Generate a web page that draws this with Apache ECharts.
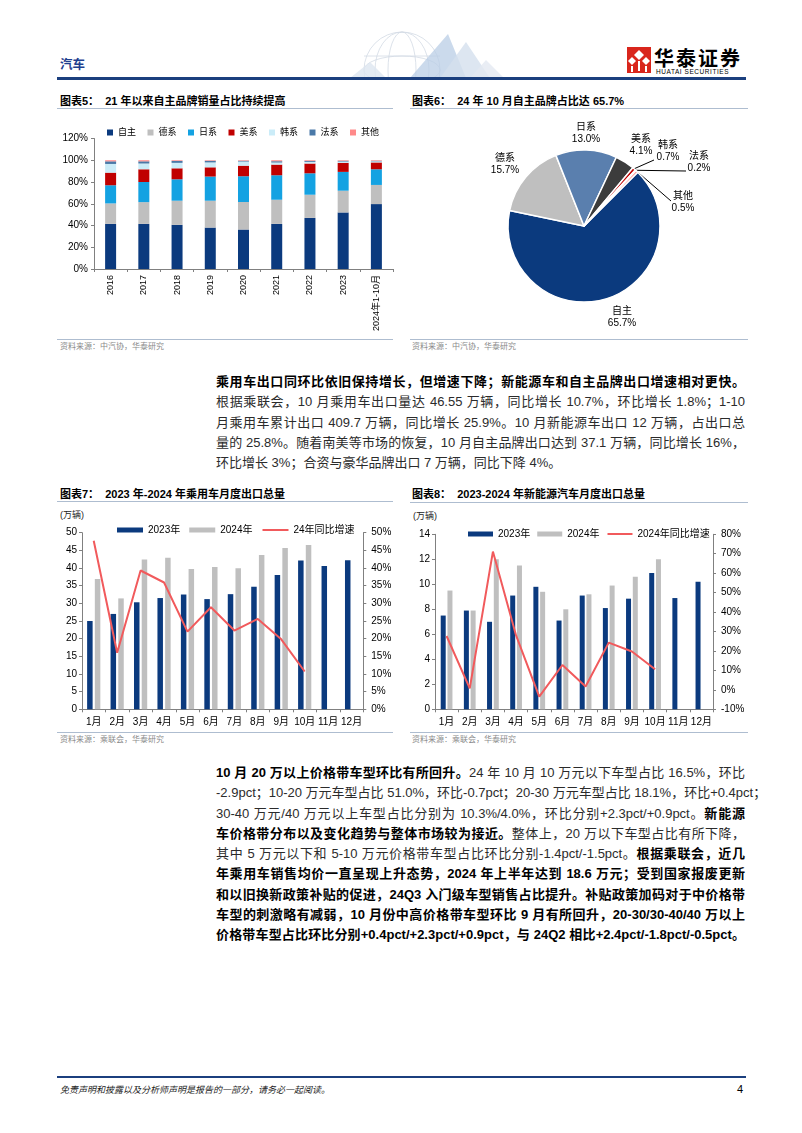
<!DOCTYPE html>
<html>
<head>
<meta charset="utf-8">
<script src="https://cdn.jsdelivr.net/npm/echarts@6/dist/echarts.min.js"></script>
<style>
  html, body { margin:0; padding:0; background:#fff; }
  body { width:802px; height:1133px; position:relative; overflow:hidden;
         font-family:"Liberation Sans", Arial, "Noto Sans CJK SC", sans-serif; color:#000; }
  .abs { position:absolute; }
  .ttl { position:absolute; font-size:11px; font-weight:bold; line-height:14px; white-space:nowrap; }
  .src { position:absolute; font-size:8px; color:#8a8a8a; line-height:10px; white-space:nowrap; }
  .rule { position:absolute; height:1px; background:#aebdd0; }
  .unit { position:absolute; font-size:9px; color:#222; line-height:12px; }
  .para { position:absolute; left:216px; width:529px; font-size:13px; line-height:20.3px; color:#2b2b2b; }
  .para div { white-space:nowrap; text-align:justify; text-align-last:justify; height:20.3px; }
  .para div.last { text-align-last:left; }
  .para b { color:#000; font-weight:bold; }
</style>
</head>
<body>
<!-- header -->
<svg class="abs" style="left:290px;top:26px" width="230" height="52">
  <g fill="none" stroke="#d3dae4" stroke-width="0.8">
    <circle cx="112" cy="44" r="38"/>
    <ellipse cx="112" cy="44" rx="38" ry="14"/>
    <ellipse cx="112" cy="44" rx="14" ry="38"/>
    <ellipse cx="112" cy="44" rx="27" ry="38"/>
    <line x1="74" y1="30" x2="150" y2="30"/>
  </g>
  <polygon points="120,52 158,8 176,52" fill="#b9cde6" opacity="0.75"/>
  <polygon points="150,52 176,16 200,52" fill="#d4e0ee" opacity="0.8"/>
  <polygon points="60,52 80,36 96,52" fill="#dde6f0" opacity="0.8"/>
  <polygon points="180,52 196,34 214,52" fill="#e3e9f1" opacity="0.8"/>
</svg>
<div class="abs" style="left:60px;top:54px;font-size:12.5px;font-weight:bold;color:#1f3f8f;font-family:'Noto Sans CJK SC'">汽车</div>
<svg class="abs" style="left:627px;top:47px" width="24" height="26">
  <rect width="24" height="26" fill="#d9261c"/>
  <g fill="#fff">
    <polygon points="12,3 17,8 12,13 7,8"/>
    <polygon points="5,10 9,14 5,18 1,14"/>
    <polygon points="19,10 23,14 19,18 15,14"/>
    <rect x="11" y="14" width="2" height="10"/>
    <rect x="4" y="19" width="2" height="6"/>
    <rect x="18" y="19" width="2" height="6"/>
  </g>
</svg>
<div class="abs" style="left:654px;top:45px;font-size:20px;font-weight:bold;letter-spacing:2px;font-family:'Noto Sans CJK SC';line-height:26px">华泰证券</div>
<div class="abs" style="left:656px;top:68px;font-size:6.5px;letter-spacing:0.55px;line-height:8px">HUATAI SECURITIES</div>
<div class="abs" style="left:57px;top:77px;width:689px;height:3px;background:#1b3f7e"></div>

<!-- chart titles -->
<div class="ttl" style="left:60px;top:94px">图表5：&nbsp;&nbsp;21 年以来自主品牌销量占比持续提高</div>
<div class="rule" style="left:57px;top:108px;width:336px"></div>
<div class="ttl" style="left:412px;top:94px">图表6：&nbsp;&nbsp;24 年 10 月自主品牌占比达 65.7%</div>
<div class="rule" style="left:410px;top:108px;width:338px"></div>
<div class="rule" style="left:57px;top:339px;width:336px"></div>
<div class="src" style="left:60px;top:342px">资料来源：中汽协，华泰研究</div>
<div class="rule" style="left:410px;top:339px;width:338px"></div>
<div class="src" style="left:412px;top:342px">资料来源：中汽协，华泰研究</div>

<div class="ttl" style="left:60px;top:487px">图表7：&nbsp;&nbsp;2023 年-2024 年乘用车月度出口总量</div>
<div class="rule" style="left:57px;top:501px;width:336px"></div>
<div class="ttl" style="left:412px;top:487px">图表8：&nbsp;&nbsp;2023-2024 年新能源汽车月度出口总量</div>
<div class="rule" style="left:410px;top:502px;width:338px"></div>
<div class="unit" style="left:60px;top:509px">(万辆)</div>
<div class="unit" style="left:413px;top:510px">(万辆)</div>
<div class="rule" style="left:57px;top:732px;width:336px"></div>
<div class="src" style="left:60px;top:735px">资料来源：乘联会，华泰研究</div>
<div class="rule" style="left:410px;top:732px;width:338px"></div>
<div class="src" style="left:412px;top:735px">资料来源：乘联会，华泰研究</div>

<!-- paragraphs -->
<div class="para" style="top:372px">
  <div><b>乘用车出口同环比依旧保持增长，但增速下降；新能源车和自主品牌出口增速相对更快。</b></div>
  <div>根据乘联会，10 月乘用车出口量达 46.55 万辆，同比增长 10.7%，环比增长 1.8%；1-10</div>
  <div>月乘用车累计出口 409.7 万辆，同比增长 25.9%。10 月新能源车出口 12 万辆，占出口总</div>
  <div>量的 25.8%。随着南美等市场的恢复，10 月自主品牌出口达到 37.1 万辆，同比增长 16%，</div>
  <div class="last">环比增长 3%；合资与豪华品牌出口 7 万辆，同比下降 4%。</div>
</div>
<div class="para" style="top:763px">
  <div><b>10 月 20 万以上价格带车型环比有所回升。</b>24 年 10 月 10 万元以下车型占比 16.5%，环比</div>
  <div>-2.9pct；10-20 万元车型占比 51.0%，环比-0.7pct；20-30 万元车型占比 18.1%，环比+0.4pct；</div>
  <div>30-40 万元/40 万元以上车型占比分别为 10.3%/4.0%，环比分别+2.3pct/+0.9pct。<b>新能源</b></div>
  <div><b>车价格带分布以及变化趋势与整体市场较为接近。</b>整体上，20 万以下车型占比有所下降，</div>
  <div>其中 5 万元以下和 5-10 万元价格带车型占比环比分别-1.4pct/-1.5pct。<b>根据乘联会，近几</b></div>
  <div><b>年乘用车销售均价一直呈现上升态势，2024 年上半年达到 18.6 万元；受到国家报废更新</b></div>
  <div><b>和以旧换新政策补贴的促进，24Q3 入门级车型销售占比提升。补贴政策加码对于中价格带</b></div>
  <div><b>车型的刺激略有减弱，10 月份中高价格带车型环比 9 月有所回升，20-30/30-40/40 万以上</b></div>
  <div><b>价格带车型占比环比分别+0.4pct/+2.3pct/+0.9pct，与 24Q2 相比+2.4pct/-1.8pct/-0.5pct。</b></div>
</div>

<!-- footer -->
<div class="abs" style="left:57px;top:1076px;width:689px;height:2px;background:#1b3f7e"></div>
<div class="abs" style="left:60px;top:1084px;font-size:9px;font-style:italic;color:#222;line-height:12px">免责声明和披露以及分析师声明是报告的一部分，请务必一起阅读。</div>
<div class="abs" style="left:737px;top:1083px;font-size:11px;line-height:13px">4</div>

<div id="chart" class="abs" style="left:0;top:0;width:802px;height:1133px"></div>

<script>
// ---- Data ----
const brandYears = ['2016', '2017', '2018', '2019', '2020', '2021', '2022', '2023', '2024年1-10月'];
const brandNames = ['自主', '德系', '日系', '美系', '韩系', '法系', '其他'];
const shareDomestic = [41.5, 41.5, 40.6, 38.1, 36.3, 41.5, 47.0, 52.0, 59.7];
const shareGerman   = [18.8, 20.0, 22.2, 24.7, 25.3, 22.2, 21.3, 20.0, 17.6];
const shareJapanese = [16.7, 18.5, 19.7, 22.2, 23.7, 22.5, 19.7, 17.3, 14.4];
const shareAmerican = [11.6, 11.7, 10.1, 8.5, 9.7, 9.8, 9.0, 8.3, 6.3];
const shareKorean   = [8.0, 5.3, 5.0, 4.5, 3.8, 1.9, 1.5, 1.2, 1.0];
const shareFrench   = [2.4, 2.0, 1.8, 1.5, 0.7, 1.2, 0.9, 0.7, 0.5];
const shareOther    = [1.0, 1.0, 0.6, 0.5, 0.5, 0.9, 0.6, 0.5, 0.5];

const octBrands = ['自主', '德系', '日系', '美系', '韩系', '法系', '其他'];
const octShare  = [65.7, 15.7, 13.0, 4.1, 0.7, 0.2, 0.5];

const months = ['1月', '2月', '3月', '4月', '5月', '6月', '7月', '8月', '9月', '10月', '11月', '12月'];
const pvExport2023 = [25.0, 27.0, 30.3, 31.5, 32.5, 31.2, 32.6, 34.7, 38.0, 42.1, 40.6, 42.2];
const pvExport2024 = [36.9, 31.4, 42.4, 42.9, 39.7, 40.3, 39.9, 43.7, 45.7, 46.55];
const pvExportYoY  = [47.7, 16.0, 39.3, 35.9, 22.0, 28.9, 22.3, 25.6, 19.8, 10.7];

const nevExport2023 = [7.5, 7.9, 7.0, 9.1, 9.8, 7.1, 9.1, 8.1, 8.85, 10.9, 8.9, 10.2];
const nevExport2024 = [9.5, 7.9, 12.0, 11.5, 9.4, 8.0, 9.2, 9.9, 10.6, 12.0];
const nevExportYoY  = [27.7, 0.8, 71.1, 28.0, -3.5, 12.8, 1.7, 24.3, 19.7, 10.6];

// ---- Styles ----
const NAVY = '#0b3a7e', GRAY = '#bfbfbf', RED_LINE = '#f15a5c';
const barColors = ['#0b3a7e', '#bfbfbf', '#14a2e2', '#c00000', '#cbecf8', '#4a79a8', '#ff8a8a'];
const pieColors = ['#0b3a7e', '#bfbfbf', '#5a7fae', '#3c3c3c', '#c00000', '#f2c4c4', '#ff8a8a'];
const brandSeriesData = [shareDomestic, shareGerman, shareJapanese, shareAmerican, shareKorean, shareFrench, shareOther];

const pieLabelSpots = {
  '自主': { x: 622, y: 317 },
  '德系': { x: 505, y: 164 },
  '日系': { x: 586, y: 133 },
  '美系': { x: 641, y: 145 },
  '韩系': { x: 668, y: 151, end: [654, 160] },
  '法系': { x: 699, y: 162, end: [686, 171] },
  '其他': { x: 683, y: 202, end: [671, 201] }
};

const axisColor = '#808080';
function catAxis(gridIndex, data, extra) {
  return Object.assign({
    type: 'category', gridIndex: gridIndex, data: data,
    axisLine: { onZero: false, lineStyle: { color: axisColor, width: 1 } },
    axisTick: { show: true, length: 3, lineStyle: { color: axisColor } },
    axisLabel: { color: '#000', fontSize: 10, margin: 8, interval: 0 },
    splitLine: { show: false }
  }, extra || {});
}
function valAxis(gridIndex, min, max, interval, pos, fmt, margin) {
  return {
    type: 'value', gridIndex: gridIndex, min: min, max: max, interval: interval, position: pos,
    axisLine: { show: true, lineStyle: { color: axisColor, width: 1 } },
    axisTick: { show: true, length: 3, lineStyle: { color: axisColor } },
    axisLabel: { color: '#000', fontSize: 10, margin: margin, formatter: fmt },
    splitLine: { show: false }
  };
}

const chart = echarts.init(document.getElementById('chart'), null, { renderer: 'canvas' });

const series = [];
brandNames.forEach(function (n, i) {
  series.push({
    name: n, type: 'bar', stack: 'brand', xAxisIndex: 0, yAxisIndex: 0,
    barWidth: 11, data: brandSeriesData[i], itemStyle: { color: barColors[i] },
    emphasis: { disabled: true }
  });
});
series.push({
  name: '10月份额', type: 'pie', center: [584, 226], radius: 76, startAngle: 45, clockwise: true,
  avoidLabelOverlap: false, emphasis: { disabled: true },
  itemStyle: { borderColor: '#fff', borderWidth: 1.5 },
  label: {
    show: true, position: 'outside', color: '#000', fontSize: 10, lineHeight: 12,
    formatter: function (p) { return p.name + '\n' + p.value.toFixed(1) + '%'; }
  },
  labelLine: { show: true, length: 8, length2: 8, lineStyle: { color: '#000', width: 1 } },
  labelLayout: function (p) {
    const s = pieLabelSpots[octBrands[p.dataIndex]];
    const r = { x: s.x, y: s.y, align: 'center', verticalAlign: 'middle' };
    if (s.end && p.labelLinePoints) r.labelLinePoints = [p.labelLinePoints[0], s.end, s.end];
    return r;
  },
  data: octBrands.map(function (n, i) {
    return { name: n, value: octShare[i], itemStyle: { color: pieColors[i] }, labelLine: { show: i >= 4 } };
  })
});
// chart 7
series.push({ name: '2023年', type: 'bar', xAxisIndex: 1, yAxisIndex: 1, barWidth: 5.5, barGap: '40%',
  data: pvExport2023, itemStyle: { color: NAVY }, emphasis: { disabled: true } });
series.push({ name: '2024年', type: 'bar', xAxisIndex: 1, yAxisIndex: 1, barWidth: 5.5, barGap: '40%',
  data: pvExport2024, itemStyle: { color: GRAY }, emphasis: { disabled: true } });
series.push({ name: '24年同比增速', type: 'line', xAxisIndex: 1, yAxisIndex: 2, data: pvExportYoY,
  symbol: 'none', lineStyle: { color: RED_LINE, width: 2 }, itemStyle: { color: RED_LINE }, z: 5 });
// chart 8
series.push({ name: '2023年', type: 'bar', xAxisIndex: 2, yAxisIndex: 3, barWidth: 5, barGap: '35%',
  data: nevExport2023, itemStyle: { color: NAVY }, emphasis: { disabled: true } });
series.push({ name: '2024年', type: 'bar', xAxisIndex: 2, yAxisIndex: 3, barWidth: 5, barGap: '35%',
  data: nevExport2024, itemStyle: { color: GRAY }, emphasis: { disabled: true } });
series.push({ name: '2024年同比增速', type: 'line', xAxisIndex: 2, yAxisIndex: 4, data: nevExportYoY,
  symbol: 'none', lineStyle: { color: RED_LINE, width: 2 }, itemStyle: { color: RED_LINE }, z: 5 });

const hiddenDot = { opacity: 0 };
chart.setOption({
  animation: false,
  textStyle: { fontFamily: '"Liberation Sans", Arial, "Noto Sans CJK SC", sans-serif' },
  grid: [
    { left: 94, top: 138.5, width: 299, height: 130.5 },
    { left: 82, top: 532.7, width: 281.3, height: 176.6 },
    { left: 435, top: 534.3, width: 278, height: 175 }
  ],
  xAxis: [
    catAxis(0, brandYears, { axisLabel: { color: '#000', fontSize: 9, margin: 6, rotate: 90, interval: 0 } }),
    catAxis(1, months),
    catAxis(2, months)
  ],
  yAxis: [
    valAxis(0, 0, 120, 20, 'left', '{value}%', 6),
    valAxis(1, 0, 50, 5, 'left', '{value}', 5),
    valAxis(1, 0, 50, 5, 'right', '{value}%', 8),
    valAxis(2, 0, 14, 2, 'left', '{value}', 5),
    valAxis(2, -10, 80, 10, 'right', '{value}%', 8)
  ],
  legend: [
    { left: 102, top: 123, itemWidth: 6, itemHeight: 6, itemGap: 11.5, icon: 'rect',
      textStyle: { fontSize: 9, color: '#000' }, data: brandNames, selectedMode: false },
    { left: 112, top: 520, itemWidth: 26, itemHeight: 5, itemGap: 9,
      textStyle: { fontSize: 10, color: '#000' }, selectedMode: false,
      data: [{ name: '2023年', icon: 'rect' }, { name: '2024年', icon: 'rect' }, { name: '24年同比增速', itemStyle: hiddenDot }] },
    { left: 463, top: 524, itemWidth: 25, itemHeight: 5, itemGap: 7,
      textStyle: { fontSize: 10, color: '#000' }, selectedMode: false,
      data: [{ name: '2023年', icon: 'rect' }, { name: '2024年', icon: 'rect' }, { name: '2024年同比增速', itemStyle: hiddenDot }] }
  ],
  series: series
});
</script>
</body>
</html>
